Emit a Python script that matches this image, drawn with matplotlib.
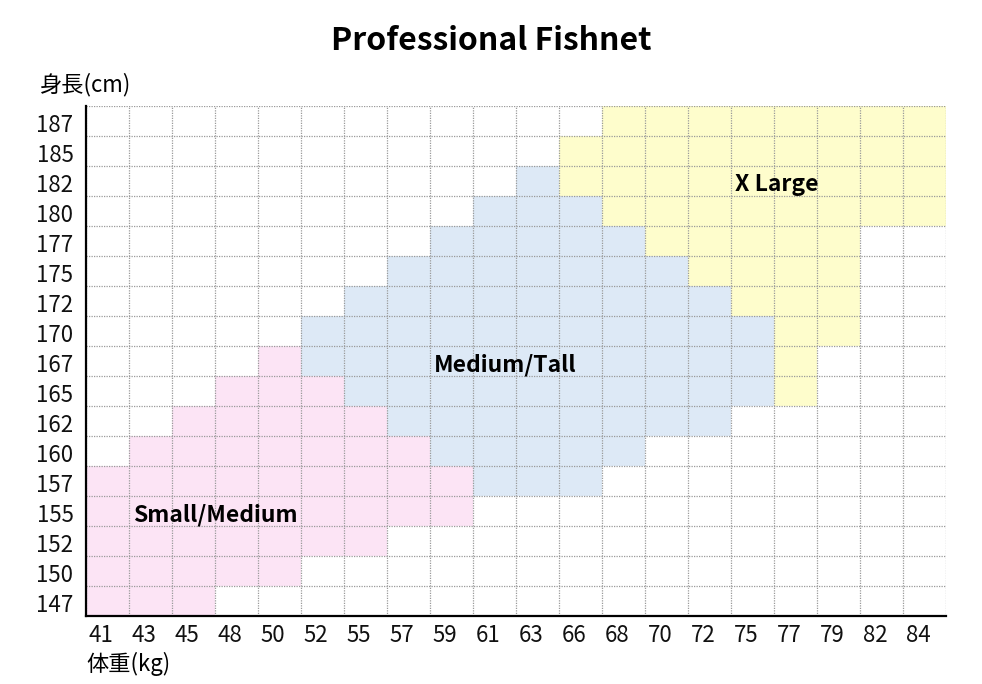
import numpy as np
import matplotlib
matplotlib.use('Agg')
import matplotlib.pyplot as plt
from matplotlib.colors import ListedColormap

plt.rcParams['font.family'] = ['Noto Sans CJK JP', 'DejaVu Sans']

weights = [41, 43, 45, 48, 50, 52, 55, 57, 59, 61, 63, 66, 68, 70, 72, 75, 77, 79, 82, 84]
heights = [147, 150, 152, 155, 157, 160, 162, 165, 167, 170, 172, 175, 177, 180, 182, 185, 187]

# weight range (lo, hi) per height for each size
small_h = [147, 150, 152, 155, 157, 160, 162, 165, 167]
small_lo = [41, 41, 41, 41, 41, 43, 45, 48, 50]
small_hi = [45, 50, 55, 59, 59, 57, 55, 52, 50]

medium_h = [157, 160, 162, 165, 167, 170, 172, 175, 177, 180, 182]
medium_lo = [61, 59, 57, 55, 52, 52, 55, 57, 59, 61, 63]
medium_hi = [66, 68, 72, 75, 75, 75, 72, 70, 68, 66, 63]

xl_h = [165, 167, 170, 172, 175, 177, 180, 182, 185, 187]
xl_lo = [77, 77, 77, 75, 72, 70, 68, 66, 66, 68]
xl_hi = [77, 77, 79, 79, 79, 79, 84, 84, 84, 84]

size_names = ['Small/Medium', 'Medium/Tall', 'X Large']
# where each size name is written (weight, height)
name_pos = [(43, 155), (59, 167), (75, 182)]

grid = np.zeros((len(heights), len(weights)), dtype=int)
for code, (hs, los, his) in enumerate([(small_h, small_lo, small_hi),
                                       (medium_h, medium_lo, medium_hi),
                                       (xl_h, xl_lo, xl_hi)], start=1):
    for h, lo, hi in zip(hs, los, his):
        r = heights.index(h)
        grid[r, weights.index(lo):weights.index(hi) + 1] = code

cmap = ListedColormap(['white', '#fce4f5', '#dde9f6', '#fefdcc'])

fig = plt.figure(figsize=(9.82, 6.84), dpi=100)
ax = fig.add_axes([86 / 982, 68 / 684, 860 / 982, 510 / 684])
ax.pcolormesh(np.arange(len(weights) + 1), np.arange(len(heights) + 1), grid,
              cmap=cmap, vmin=0, vmax=3)

for i in range(len(weights) + 1):
    ax.axvline(i, color='#9a9a9a', lw=0.9, ls=(0, (1, 1)), zorder=2)
for j in range(len(heights) + 1):
    ax.axhline(j, color='#9a9a9a', lw=0.9, ls=(0, (1, 1)), zorder=2)

ax.set_xlim(0, len(weights))
ax.set_ylim(0, len(heights))
for s in ['top', 'right']:
    ax.spines[s].set_visible(False)
for s in ['left', 'bottom']:
    ax.spines[s].set_linewidth(1.6)
    ax.spines[s].set_zorder(3)

ax.set_xticks(np.arange(len(weights)) + 0.35)
ax.set_xticklabels(weights)
ax.set_yticks(np.arange(len(heights)) + 0.42)
ax.set_yticklabels(heights)
ax.tick_params(length=0, labelsize=16, colors='#111111')
ax.tick_params(axis='x', pad=6)
ax.tick_params(axis='y', pad=9)

for name, (w, h) in zip(size_names, name_pos):
    ax.text(weights.index(w) + 0.1, heights.index(h) + 0.38, name,
            ha='left', va='center', fontsize=16.5, fontweight='bold', zorder=4)

fig.text(491 / 982, 1 - 41 / 684, 'Professional Fishnet', ha='center', va='center',
         fontsize=23, fontweight='bold')
fig.text(40 / 982, 1 - 85 / 684, '身長(cm)', ha='left', va='center', fontsize=16)
fig.text(86 / 982, 1 - 664 / 684, '体重(kg)', ha='left', va='center', fontsize=16)

fig.savefig('out.png', dpi=100)
